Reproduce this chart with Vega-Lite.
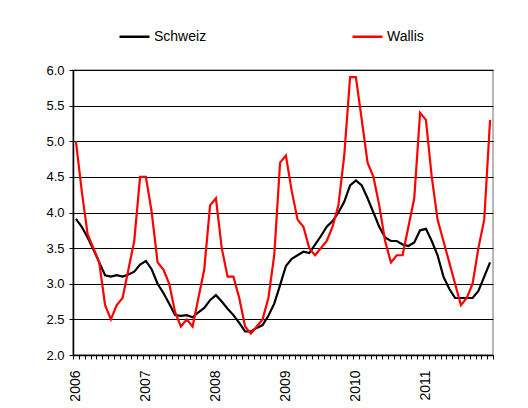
{
  "$schema": "https://vega.github.io/schema/vega-lite/v6.json",
  "autosize": "none",
  "width": 420,
  "height": 285,
  "padding": {"left": 73, "top": 70, "right": 35, "bottom": 53},
  "background": "white",
  "config": {
    "font": "Liberation Sans",
    "view": {"stroke": "#a0a0a0", "strokeWidth": 1.5}
  },
  "data": {"values": [
    {"m":0,"Schweiz":3.91,"Wallis":5.0},{"m":1,"Schweiz":3.8,"Wallis":4.3},{"m":2,"Schweiz":3.65,"Wallis":3.7},{"m":3,"Schweiz":3.48,"Wallis":3.5},{"m":4,"Schweiz":3.3,"Wallis":3.3},{"m":5,"Schweiz":3.12,"Wallis":2.7},{"m":6,"Schweiz":3.1,"Wallis":2.5},{"m":7,"Schweiz":3.12,"Wallis":2.7},{"m":8,"Schweiz":3.1,"Wallis":2.8},{"m":9,"Schweiz":3.13,"Wallis":3.2},{"m":10,"Schweiz":3.17,"Wallis":3.6},{"m":11,"Schweiz":3.27,"Wallis":4.5},
    {"m":12,"Schweiz":3.32,"Wallis":4.5},{"m":13,"Schweiz":3.2,"Wallis":4.0},{"m":14,"Schweiz":3.0,"Wallis":3.3},{"m":15,"Schweiz":2.87,"Wallis":3.2},{"m":16,"Schweiz":2.72,"Wallis":3.0},{"m":17,"Schweiz":2.56,"Wallis":2.6},{"m":18,"Schweiz":2.55,"Wallis":2.4},{"m":19,"Schweiz":2.56,"Wallis":2.5},{"m":20,"Schweiz":2.53,"Wallis":2.4},{"m":21,"Schweiz":2.6,"Wallis":2.8},{"m":22,"Schweiz":2.66,"Wallis":3.2},{"m":23,"Schweiz":2.77,"Wallis":4.1},
    {"m":24,"Schweiz":2.84,"Wallis":4.2},{"m":25,"Schweiz":2.75,"Wallis":3.5},{"m":26,"Schweiz":2.65,"Wallis":3.1},{"m":27,"Schweiz":2.56,"Wallis":3.1},{"m":28,"Schweiz":2.45,"Wallis":2.8},{"m":29,"Schweiz":2.33,"Wallis":2.4},{"m":30,"Schweiz":2.33,"Wallis":2.3},{"m":31,"Schweiz":2.38,"Wallis":2.4},{"m":32,"Schweiz":2.42,"Wallis":2.5},{"m":33,"Schweiz":2.55,"Wallis":2.8},{"m":34,"Schweiz":2.72,"Wallis":3.4},{"m":35,"Schweiz":2.98,"Wallis":4.7},
    {"m":36,"Schweiz":3.25,"Wallis":4.8},{"m":37,"Schweiz":3.35,"Wallis":4.3},{"m":38,"Schweiz":3.4,"Wallis":3.9},{"m":39,"Schweiz":3.45,"Wallis":3.8},{"m":40,"Schweiz":3.43,"Wallis":3.5},{"m":41,"Schweiz":3.55,"Wallis":3.4},{"m":42,"Schweiz":3.67,"Wallis":3.5},{"m":43,"Schweiz":3.8,"Wallis":3.6},{"m":44,"Schweiz":3.88,"Wallis":3.8},{"m":45,"Schweiz":4.0,"Wallis":4.1},{"m":46,"Schweiz":4.15,"Wallis":4.8},{"m":47,"Schweiz":4.38,"Wallis":5.9},
    {"m":48,"Schweiz":4.45,"Wallis":5.9},{"m":49,"Schweiz":4.38,"Wallis":5.3},{"m":50,"Schweiz":4.2,"Wallis":4.7},{"m":51,"Schweiz":4.0,"Wallis":4.5},{"m":52,"Schweiz":3.8,"Wallis":4.1},{"m":53,"Schweiz":3.65,"Wallis":3.6},{"m":54,"Schweiz":3.6,"Wallis":3.3},{"m":55,"Schweiz":3.6,"Wallis":3.4},{"m":56,"Schweiz":3.55,"Wallis":3.4},{"m":57,"Schweiz":3.53,"Wallis":3.8},{"m":58,"Schweiz":3.58,"Wallis":4.2},{"m":59,"Schweiz":3.75,"Wallis":5.4},
    {"m":60,"Schweiz":3.77,"Wallis":5.3},{"m":61,"Schweiz":3.6,"Wallis":4.5},{"m":62,"Schweiz":3.4,"Wallis":3.9},{"m":63,"Schweiz":3.1,"Wallis":3.6},{"m":64,"Schweiz":2.93,"Wallis":3.3},{"m":65,"Schweiz":2.8,"Wallis":3.0},{"m":66,"Schweiz":2.8,"Wallis":2.7},{"m":67,"Schweiz":2.8,"Wallis":2.8},{"m":68,"Schweiz":2.8,"Wallis":3.0},{"m":69,"Schweiz":2.9,"Wallis":3.5},{"m":70,"Schweiz":3.1,"Wallis":3.9},{"m":71,"Schweiz":3.3,"Wallis":5.3}
  ]},
  "transform": [{"fold": ["Schweiz", "Wallis"], "as": ["Serie", "Wert"]}],
  "mark": {"type": "line", "strokeWidth": 2.2},
  "encoding": {
    "x": {
      "field": "m", "type": "quantitative",
      "scale": {"domain": [-0.5, 71.5], "nice": false, "zero": false},
      "axis": {
        "title": null, "grid": false,
        "values": [-0.5,0.5,1.5,2.5,3.5,4.5,5.5,6.5,7.5,8.5,9.5,10.5,11.5,12.5,13.5,14.5,15.5,16.5,17.5,18.5,19.5,20.5,21.5,22.5,23.5,24.5,25.5,26.5,27.5,28.5,29.5,30.5,31.5,32.5,33.5,34.5,35.5,36.5,37.5,38.5,39.5,40.5,41.5,42.5,43.5,44.5,45.5,46.5,47.5,48.5,49.5,50.5,51.5,52.5,53.5,54.5,55.5,56.5,57.5,58.5,59.5,60.5,61.5,62.5,63.5,64.5,65.5,66.5,67.5,68.5,69.5,70.5,71.5],
        "labelExpr": "(datum.value + 0.5) % 12 == 0 && datum.value < 71 ? '' + (2006 + (datum.value + 0.5) / 12) : ''",
        "labelAngle": -90, "labelOffset": 2.9, "labelPadding": 11,
        "labelFontSize": 14, "labelColor": "black",
        "labelOverlap": false, "labelFlush": false, "labelBound": false,
        "tickSize": 4, "tickColor": "black", "domainColor": "black", "domainWidth": 1.5
      }
    },
    "y": {
      "field": "Wert", "type": "quantitative",
      "scale": {"domain": [2, 6], "nice": false, "zero": false},
      "axis": {
        "title": null, "values": [2, 2.5, 3, 3.5, 4, 4.5, 5, 5.5, 6],
        "format": ".1f", "labelFontSize": 13, "labelColor": "black", "labelPadding": 5,
        "tickSize": 4, "tickColor": "black", "domainColor": "black", "domainWidth": 1.5,
        "gridColor": "black", "gridWidth": 1, "gridOpacity": 1
      }
    },
    "color": {
      "field": "Serie", "type": "nominal",
      "scale": {"domain": ["Schweiz", "Wallis"], "range": ["black", "#ff0000"]},
      "legend": {
        "title": null, "orient": "none", "direction": "horizontal",
        "legendX": 45, "legendY": -50,
        "symbolType": "stroke", "symbolSize": 900, "symbolStrokeWidth": 2.5,
        "labelFontSize": 14, "labelColor": "black", "labelOffset": 3,
        "columnPadding": 140
      }
    }
  }
}
